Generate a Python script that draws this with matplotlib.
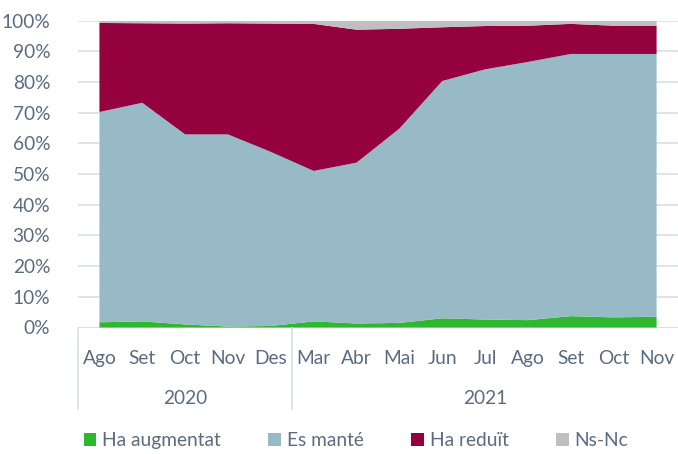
import matplotlib.pyplot as plt
from matplotlib.transforms import blended_transform_factory
from matplotlib.patches import Patch

# values (percent)
months = ['Ago', 'Set', 'Oct', 'Nov', 'Des', 'Mar', 'Abr', 'Mai', 'Jun', 'Jul', 'Ago', 'Set', 'Oct', 'Nov']
years = ['2020', '2021']
year_span = [(0, 4), (5, 13)]
augmentat = [1.7, 2.0, 1.0, 0.3, 0.5, 2.0, 1.3, 1.5, 3.0, 2.6, 2.4, 3.7, 3.3, 3.5]
mante = [68.5, 71.2, 61.9, 62.6, 56.7, 49.0, 52.4, 63.3, 77.3, 81.5, 84.1, 85.4, 85.8, 85.6]
redueix = [29.0, 25.9, 36.1, 36.2, 41.8, 47.9, 43.3, 32.5, 17.5, 14.1, 11.8, 9.8, 9.2, 9.2]
nsnc = [0.8, 0.9, 1.0, 0.9, 1.0, 1.1, 3.0, 2.7, 2.2, 1.8, 1.7, 1.1, 1.7, 1.7]
series_names = ['Ha augmentat', 'Es manté', 'Ha reduït', 'Ns-Nc']

colors = ['#2eb82e', '#97bac6', '#95003f', '#bfbfbf']
txt = '#5b6b82'
grid_c = '#d9dee6'
fs = 13.8

plt.rcParams['font.family'] = ['Lato', 'DejaVu Sans']

fig = plt.figure(figsize=(6.78, 4.54), dpi=100)
ax = fig.add_axes([78/678, 126.5/454, 600/678, 307/454])

x = list(range(len(months)))
ax.stackplot(x, augmentat, mante, redueix, nsnc, colors=colors, linewidth=0, zorder=2)

ax.set_xlim(-0.5, 13.5)
ax.set_ylim(0, 100)
ax.set_yticks(range(0, 101, 10))
ax.set_yticklabels([f'{v}%' for v in range(0, 101, 10)], fontsize=fs, color=txt)
ax.yaxis.grid(True, color=grid_c, linewidth=1.2, zorder=0)
ax.set_axisbelow(True)
ax.tick_params(axis='y', length=0, pad=20)

ax.set_xticks(x)
ax.set_xticklabels(months, fontsize=fs, color=txt)
ax.tick_params(axis='x', length=0, pad=16)

for s in ax.spines.values():
    s.set_visible(False)
ax.axhline(0, color=grid_c, linewidth=1.2, zorder=1)

# second level of category labels
tr = blended_transform_factory(ax.transData, ax.transAxes)
for xs in [-0.5, 4.5]:
    ax.plot([xs, xs], [0, -0.267], transform=tr, color=grid_c, linewidth=1.2, clip_on=False)
for yr, (a, b) in zip(years, year_span):
    ax.text((a + b) / 2, -0.23, yr, transform=tr, ha='center', va='center', fontsize=fs, color=txt)

handles = [Patch(facecolor=c, edgecolor='none') for c in colors]
fig.legend(handles, series_names, loc='center', bbox_to_anchor=(0.525, 0.03), ncol=4,
           frameon=False, fontsize=fs, labelcolor=txt, handlelength=0.65, handleheight=0.65,
           handletextpad=0.3, columnspacing=2.5)

fig.savefig('out.png', dpi=100)
